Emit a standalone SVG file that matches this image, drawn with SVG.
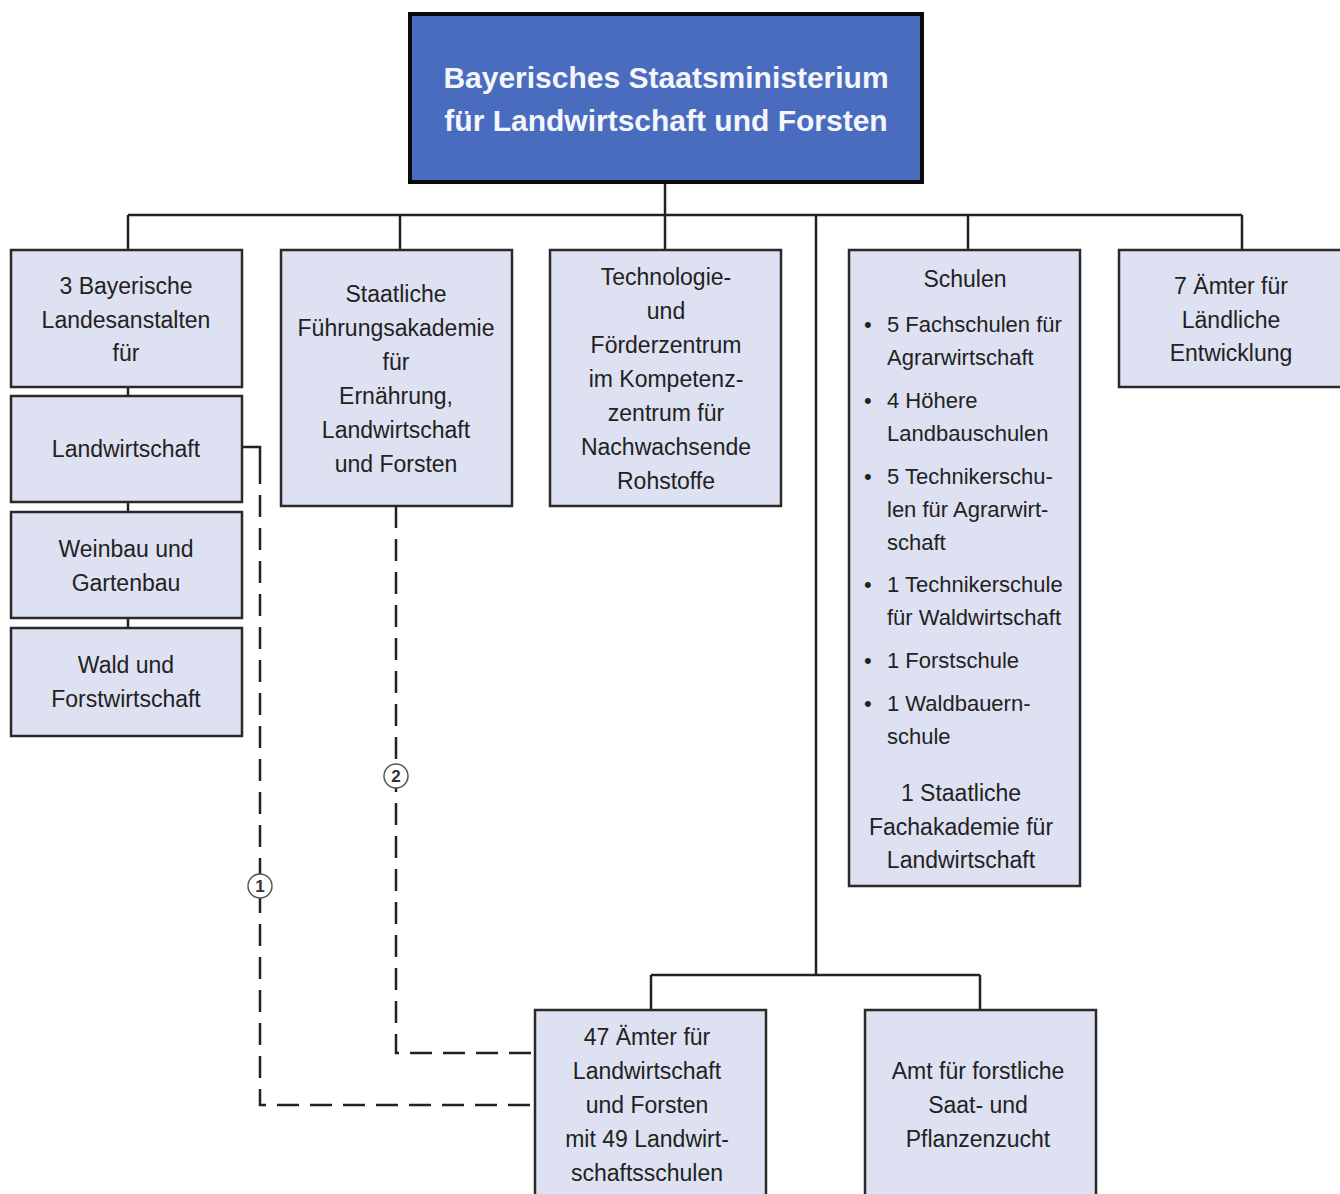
<svg xmlns="http://www.w3.org/2000/svg" width="1340" height="1194" viewBox="0 0 1340 1194">
<style>
.box{fill:#dde1f1;stroke:#2a2a2a;stroke-width:2.5}
.top{fill:#4a6cbe;stroke:#0a0a0a;stroke-width:4}
.t{font-family:"Liberation Sans",Arial,sans-serif;font-size:23px;fill:#222;text-anchor:middle}
.tl{font-family:"Liberation Sans",Arial,sans-serif;font-size:22px;fill:#222}
.tt{font-family:"Liberation Sans",Arial,sans-serif;font-size:30px;font-weight:bold;fill:#f4f6fb;text-anchor:middle}
.c{fill:none;stroke:#222;stroke-width:2.5}
.d{fill:none;stroke:#222;stroke-width:2.5;stroke-dasharray:22 11}
.n{font-family:"Liberation Sans",Arial,sans-serif;font-size:17px;font-weight:bold;fill:#333;text-anchor:middle}
</style>
<rect width="1340" height="1194" fill="#ffffff"/>
<g id="connectors">
<path class="c" d="M665 182V215M128 215H1242M128 215V250M400 215V250M665 215V250M968 215V250M1242 215V250M816 215V975M651 975H980M651 975V1010M980 975V1010M128 387V396M128 502V512M128 618V628"/>
<path class="c" d="M242 447H260V462"/>
<path class="d" d="M260 462V1105H535"/>
<path class="d" d="M396 506V1053H535"/>
<circle cx="260" cy="886" r="12" fill="#fff" stroke="#555" stroke-width="1.5"/>
<text class="n" x="260" y="892">1</text>
<circle cx="396" cy="776" r="12" fill="#fff" stroke="#555" stroke-width="1.5"/>
<text class="n" x="396" y="782">2</text>
</g>
<g id="ministerium">
<rect class="top" x="410" y="14" width="512" height="168"/>
<text class="tt" x="666" y="88">Bayerisches Staatsministerium</text>
<text class="tt" x="666" y="131">für Landwirtschaft und Forsten</text>
</g>
<g id="landesanstalten">
<rect class="box" x="11" y="250" width="231" height="137"/>
<text class="t" x="126" y="294">3 Bayerische</text>
<text class="t" x="126" y="328">Landesanstalten</text>
<text class="t" x="126" y="361">für</text>
</g>
<g id="landwirtschaft">
<rect class="box" x="11" y="396" width="231" height="106"/>
<text class="t" x="126" y="457">Landwirtschaft</text>
</g>
<g id="weinbau">
<rect class="box" x="11" y="512" width="231" height="106"/>
<text class="t" x="126" y="557">Weinbau und</text>
<text class="t" x="126" y="591">Gartenbau</text>
</g>
<g id="wald">
<rect class="box" x="11" y="628" width="231" height="108"/>
<text class="t" x="126" y="673">Wald und</text>
<text class="t" x="126" y="707">Forstwirtschaft</text>
</g>
<g id="fuehrungsakademie">
<rect class="box" x="281" y="250" width="231" height="256"/>
<text class="t" x="396" y="302">Staatliche</text>
<text class="t" x="396" y="336">Führungsakademie</text>
<text class="t" x="396" y="370">für</text>
<text class="t" x="396" y="404">Ernährung,</text>
<text class="t" x="396" y="438">Landwirtschaft</text>
<text class="t" x="396" y="472">und Forsten</text>
</g>
<g id="technologie">
<rect class="box" x="550" y="250" width="231" height="256"/>
<text class="t" x="666" y="285">Technologie-</text>
<text class="t" x="666" y="319">und</text>
<text class="t" x="666" y="353">Förderzentrum</text>
<text class="t" x="666" y="387">im Kompetenz-</text>
<text class="t" x="666" y="421">zentrum für</text>
<text class="t" x="666" y="455">Nachwachsende</text>
<text class="t" x="666" y="489">Rohstoffe</text>
</g>
<g id="schulen">
<rect class="box" x="849" y="250" width="231" height="636"/>
<text class="t" x="965" y="287">Schulen</text>
<text class="tl" x="864" y="332">•</text>
<text class="tl" x="887" y="332">5 Fachschulen für</text>
<text class="tl" x="887" y="365">Agrarwirtschaft</text>
<text class="tl" x="864" y="408">•</text>
<text class="tl" x="887" y="408">4 Höhere</text>
<text class="tl" x="887" y="441">Landbauschulen</text>
<text class="tl" x="864" y="484">•</text>
<text class="tl" x="887" y="484">5 Technikerschu-</text>
<text class="tl" x="887" y="517">len für Agrarwirt-</text>
<text class="tl" x="887" y="550">schaft</text>
<text class="tl" x="864" y="592">•</text>
<text class="tl" x="887" y="592">1 Technikerschule</text>
<text class="tl" x="887" y="625">für Waldwirtschaft</text>
<text class="tl" x="864" y="668">•</text>
<text class="tl" x="887" y="668">1 Forstschule</text>
<text class="tl" x="864" y="711">•</text>
<text class="tl" x="887" y="711">1 Waldbauern-</text>
<text class="tl" x="887" y="744">schule</text>
<text class="t" x="961" y="801">1 Staatliche</text>
<text class="t" x="961" y="835">Fachakademie für</text>
<text class="t" x="961" y="868">Landwirtschaft</text>
</g>
<g id="aemter-laendlich">
<rect class="box" x="1119" y="250" width="228" height="137"/>
<text class="t" x="1231" y="294">7 Ämter für</text>
<text class="t" x="1231" y="328">Ländliche</text>
<text class="t" x="1231" y="361">Entwicklung</text>
</g>
<g id="aemter-47">
<rect class="box" x="535" y="1010" width="231" height="200"/>
<text class="t" x="647" y="1045">47 Ämter für</text>
<text class="t" x="647" y="1079">Landwirtschaft</text>
<text class="t" x="647" y="1113">und Forsten</text>
<text class="t" x="647" y="1147">mit 49 Landwirt-</text>
<text class="t" x="647" y="1181">schaftsschulen</text>
</g>
<g id="amt-forstlich">
<rect class="box" x="865" y="1010" width="231" height="200"/>
<text class="t" x="978" y="1079">Amt für forstliche</text>
<text class="t" x="978" y="1113">Saat- und</text>
<text class="t" x="978" y="1147">Pflanzenzucht</text>
</g>
</svg>
